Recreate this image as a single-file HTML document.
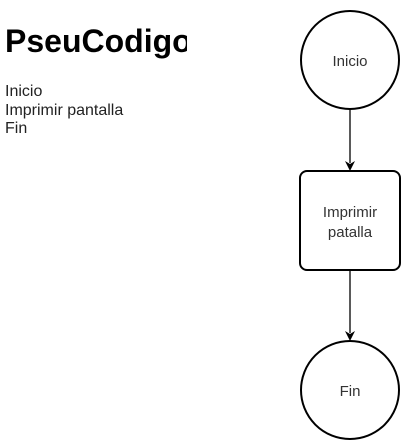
<!DOCTYPE html>
<html><head><meta charset="utf-8"><style>
html,body{margin:0;padding:0;background:#fff;width:402px;height:441px;overflow:hidden}
</style></head><body>
<svg width="402" height="441" xmlns="http://www.w3.org/2000/svg" style="position:absolute;left:0;top:0">
<defs>
<clipPath id="c"><rect x="0" y="0" width="187" height="80"/></clipPath>
</defs>
<text x="5" y="52" font-family="Liberation Sans, sans-serif" font-size="32" font-weight="bold" fill="#000" clip-path="url(#c)">PseuCodigo</text>
<g font-family="Liberation Sans, sans-serif" font-size="16" fill="#222">
<text x="5" y="96">Inicio</text>
<text x="5" y="115">Imprimir pantalla</text>
<text x="5" y="133">Fin</text>
</g>
<g stroke="#000" stroke-width="2" fill="#fff">
<circle cx="350" cy="60" r="49"/>
<rect x="300" y="171" width="100" height="99" rx="7"/>
<circle cx="350" cy="390" r="49"/>
</g>
<g stroke="#000" stroke-width="1.3">
<line x1="350" y1="110" x2="350" y2="163"/>
<line x1="350" y1="271" x2="350" y2="333"/>
</g>
<g fill="#000">
<path d="M345,161 L350,171 L355,161 L350,164Z"/>
<path d="M345,331 L350,341 L355,331 L350,334Z"/>
</g>
<g font-family="Liberation Sans, sans-serif" font-size="15" fill="#333" text-anchor="middle">
<text x="350" y="66">Inicio</text>
<text x="350" y="217">Imprimir</text>
<text x="350" y="237">patalla</text>
<text x="350" y="396">Fin</text>
</g>
</svg>
</body></html>
